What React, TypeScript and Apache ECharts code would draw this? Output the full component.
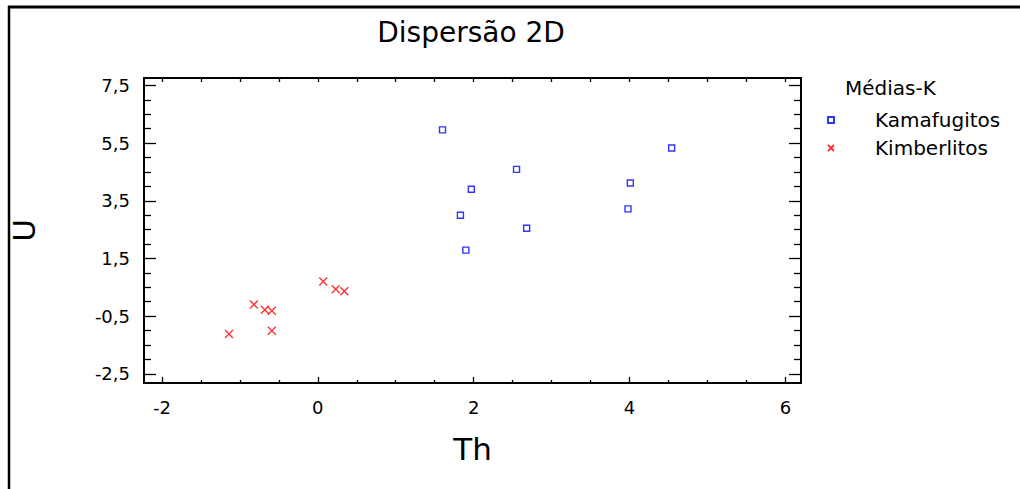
import React, { useEffect, useRef } from "react";
import * as echarts from "echarts";

const FONT = "DejaVu Sans";

const kamafugitosTh = [1.6, 1.97, 2.55, 1.83, 2.68, 1.9, 4.01, 3.98, 4.54];
const kamafugitosU = [5.96, 3.9, 4.59, 3.0, 2.55, 1.79, 4.12, 3.22, 5.33];
const kimberlitosTh = [-1.14, -0.82, -0.68, -0.59, -0.59, 0.07, 0.23, 0.34];
const kimberlitosU = [-1.12, -0.1, -0.28, -0.31, -1.01, 0.7, 0.43, 0.36];

const xMajor = [-2, 0, 2, 4, 6];
const xMinor = [-1.5, -1, -0.5, 0.5, 1, 1.5, 2.5, 3, 3.5, 4.5, 5, 5.5];
const yMajor = [-2.5, -0.5, 1.5, 3.5, 5.5, 7.5];
const yMinor = [-2, -1.5, -1, 0, 0.5, 1, 2, 2.5, 3, 4, 4.5, 5, 6, 6.5, 7];

const X_MIN = -2.23;
const X_MAX = 6.2;
const Y_MIN = -2.82;
const Y_MAX = 7.76;

const zip = (a: number[], b: number[]) => a.map((v, i) => [v, b[i]]);
const comma = (v: number) => v.toFixed(1).replace(".", ",");

export default function App() {
  const ref = useRef<HTMLDivElement>(null);
  useEffect(() => {
    if (!ref.current) return;
    const chart = echarts.init(ref.current, undefined, { renderer: "svg" });
    const line = { show: true, onZero: false, lineStyle: { color: "#000", width: 2 } };
    const noLine = { show: false, onZero: false };
    const baseX = {
      type: "value" as const,
      min: X_MIN,
      max: X_MAX,
      splitLine: { show: false },
    };
    const baseY = {
      type: "value" as const,
      min: Y_MIN,
      max: Y_MAX,
      splitLine: { show: false },
    };
    const tick = (len: number, vals: number[]) => ({
      show: true,
      inside: true,
      length: len,
      customValues: vals,
      lineStyle: { color: "#000", width: 1.3 },
    });
    chart.setOption({
      animation: false,
      backgroundColor: "#fff",
      grid: { left: 141, right: 219, top: 78, bottom: 106, containLabel: false },
      graphic: [
        {
          type: "line",
          shape: { x1: 8, y1: 7, x2: 1020, y2: 7 },
          style: { stroke: "#000", lineWidth: 3 },
        },
        {
          type: "line",
          shape: { x1: 9, y1: 6, x2: 9, y2: 489 },
          style: { stroke: "#000", lineWidth: 2.5 },
        },
        {
          type: "text",
          x: 471,
          y: 32,
          style: {
            text: "Dispersão 2D",
            font: `28px "${FONT}"`,
            fill: "#000",
            textAlign: "center",
            textVerticalAlign: "middle",
          },
        },
        {
          type: "text",
          x: 845,
          y: 88,
          style: {
            text: "Médias-K",
            font: `20px "${FONT}"`,
            fill: "#000",
            textAlign: "left",
            textVerticalAlign: "middle",
          },
        },
      ],
      legend: {
        orient: "vertical",
        left: 822,
        top: 105,
        itemWidth: 6,
        itemHeight: 6,
        itemGap: 8,
        textStyle: {
          fontFamily: FONT,
          fontSize: 20,
          color: "#000",
          padding: [0, 0, 0, 36],
        },
        data: ["Kamafugitos", "Kimberlitos"],
      },
      xAxis: [
        {
          ...baseX,
          position: "bottom",
          axisLine: line,
          axisTick: tick(6, xMajor),
          axisLabel: {
            customValues: xMajor,
            formatter: (v: number) => String(v),
            fontFamily: FONT,
            fontSize: 18,
            color: "#000",
            margin: 15,
          },
          name: "Th",
          nameLocation: "middle",
          nameGap: 50,
          nameTextStyle: { fontFamily: FONT, fontSize: 31, color: "#000" },
        },
        {
          ...baseX,
          position: "bottom",
          axisLine: noLine,
          axisTick: tick(3, xMinor),
          axisLabel: { show: false },
        },
        {
          ...baseX,
          position: "top",
          axisLine: line,
          axisTick: tick(4, [...xMajor, ...xMinor]),
          axisLabel: { show: false },
        },
      ],
      yAxis: [
        {
          ...baseY,
          position: "left",
          axisLine: line,
          axisTick: tick(12, yMajor),
          axisLabel: {
            customValues: yMajor,
            formatter: (v: number) => comma(v),
            fontFamily: FONT,
            fontSize: 18,
            color: "#000",
            margin: 14,
          },
          name: "U",
          nameLocation: "middle",
          nameRotate: 90,
          nameGap: 105,
          nameTextStyle: { fontFamily: FONT, fontSize: 31, color: "#000" },
        },
        {
          ...baseY,
          position: "left",
          axisLine: noLine,
          axisTick: tick(7, yMinor),
          axisLabel: { show: false },
        },
        {
          ...baseY,
          position: "right",
          axisLine: line,
          axisTick: tick(12, yMajor),
          axisLabel: { show: false },
        },
        {
          ...baseY,
          position: "right",
          axisLine: noLine,
          axisTick: tick(7, yMinor),
          axisLabel: { show: false },
        },
      ],
      series: [
        {
          name: "Kamafugitos",
          type: "scatter",
          xAxisIndex: 0,
          yAxisIndex: 0,
          symbol: "rect",
          symbolSize: 6,
          itemStyle: {
            color: "rgba(255,255,255,0)",
            borderColor: "#0000ff",
            borderWidth: 1.4,
          },
          data: zip(kamafugitosTh, kamafugitosU),
        },
        {
          name: "Kimberlitos",
          type: "scatter",
          xAxisIndex: 0,
          yAxisIndex: 0,
          symbol: "path://M0,0L10,10M10,0L0,10",
          symbolSize: 8,
          itemStyle: {
            color: "#ff0000",
            borderColor: "#ff0000",
            borderWidth: 1.4,
          },
          data: zip(kimberlitosTh, kimberlitosU),
        },
      ],
    });
    return () => chart.dispose();
  }, []);
  return (
    <div
      ref={ref}
      style={{ position: "fixed", left: 0, top: 0, width: 1020, height: 489 }}
    />
  );
}
